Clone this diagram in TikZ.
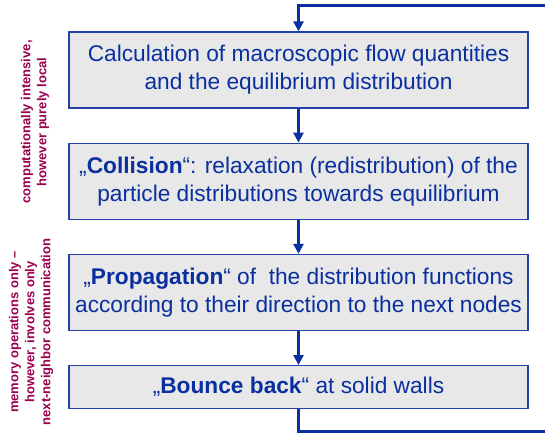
\documentclass[tikz,border=0pt]{standalone}
\usepackage{fontspec}
\setmainfont{Liberation Sans}
\usetikzlibrary{positioning,arrows.meta}
\definecolor{boxblue}{HTML}{2342A8}
\definecolor{textblue}{HTML}{0A2F9E}
\definecolor{boxgray}{HTML}{E8E8E8}
\definecolor{notered}{HTML}{99004D}
\begin{document}
\begin{tikzpicture}[x=1pt, y=1pt, >={Triangle[width=10pt,length=10pt]}, node distance=34pt,
  stepbox/.style={draw=boxblue, line width=1.2pt, fill=boxgray, text=textblue, minimum width=459pt, minimum height=76pt, align=center, inner sep=0pt, font=\fontsize{22.7}{28}\selectfont},
  flow/.style={->, line width=3pt, draw=textblue},
  note/.style={rotate=90, text=notered, align=center, font=\bfseries\fontsize{13}{16}\selectfont}]
  \useasboundingbox (0,0) rectangle (545,-438);
  \node[stepbox] (calc) at (298.5,-70) {Calculation of macroscopic flow quantities\\and the equilibrium distribution};
  \node[stepbox, below=of calc] (coll) {„\textbf{Collision}“: relaxation (redistribution) of the\\particle distributions towards equilibrium};
  \node[stepbox, below=of coll] (prop) {„\textbf{Propagation}“ of\ \ the distribution functions\\according to their direction to the next nodes};
  \node[stepbox, below=of prop, minimum height=43pt] (bounce) {„\textbf{Bounce back}“ at solid walls};
  % notes on the left
  \node[note] (localnote) at (35,-122) {computationally intensive,\\however purely local};
  \node[note] (commnote) at (31,-332) {memory operations only –\\however, involves only\\next-neighbor communication};
  % steps and loop back
  \draw[flow] (calc) -- (coll);
  \draw[flow] (coll) -- (prop);
  \draw[flow] (prop) -- (bounce);
  \coordinate (lowturn) at (560,-431);
  \coordinate (topturn) at (560,-6);
  \draw[flow] (bounce.south) -- (bounce.south |- lowturn) -- (lowturn) -- (topturn) -- (calc.north |- topturn) -- (calc.north);
\end{tikzpicture}
\end{document}
